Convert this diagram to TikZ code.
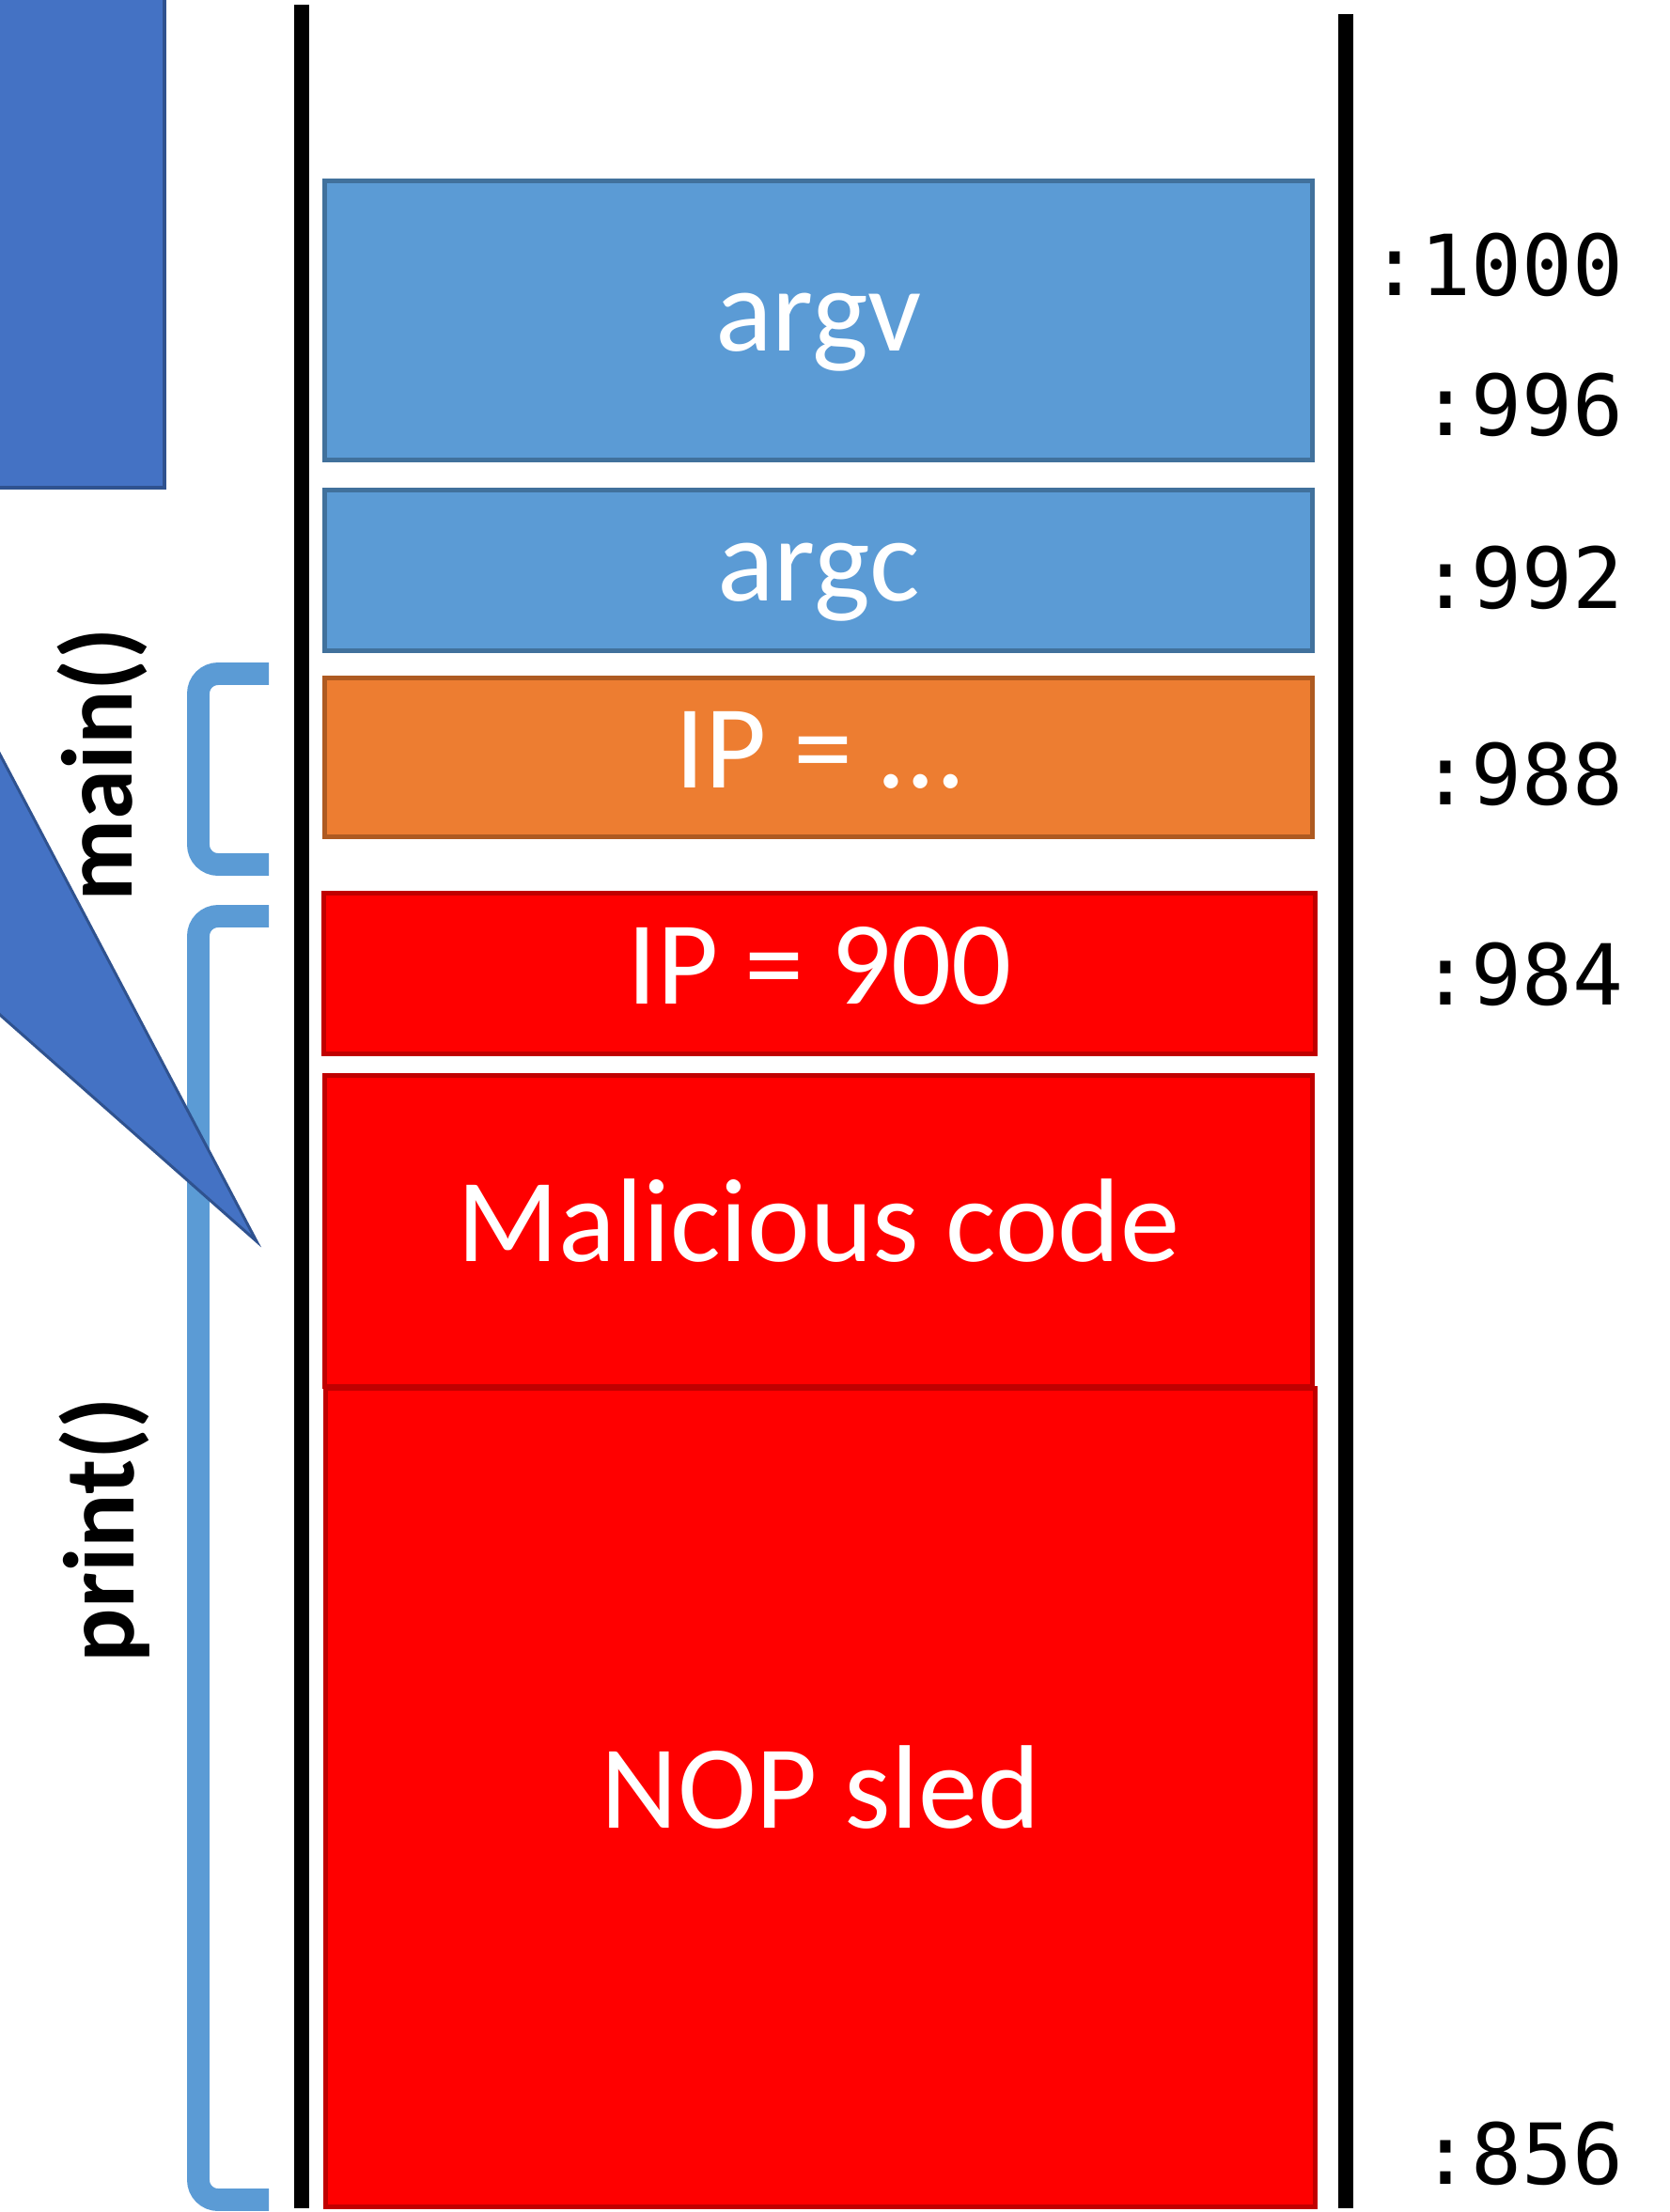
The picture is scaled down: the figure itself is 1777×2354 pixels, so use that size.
\documentclass[tikz,border=0pt]{standalone}
\usepackage{fontspec}
\setmainfont{Carlito}
\newfontfamily\monofont{DejaVu Sans Mono}
\usepackage{xcolor}
\usetikzlibrary{positioning}

\definecolor{slotblue}{HTML}{5B9BD5}
\definecolor{slotblueline}{HTML}{41719C}
\definecolor{slotorange}{HTML}{ED7D31}
\definecolor{slotorangeline}{HTML}{AE5A21}
\definecolor{slotred}{HTML}{FF0000}
\definecolor{slotredline}{HTML}{C00000}
\definecolor{calloutblue}{HTML}{4472C4}
\definecolor{calloutline}{HTML}{2F528F}

\tikzset{
  slot/.style={draw, line width=2.8pt, minimum width=21.04cm, text=white,
    inner sep=0pt, text height=54pt, text depth=16.6pt,
    font=\fontsize{72}{72}\selectfont},
  addr/.style={anchor=east, inner sep=0pt, font=\monofont\fontsize{51}{51}\selectfont},
  frame/.style={rotate=90, inner sep=0pt, font=\bfseries\fontsize{61}{61}\selectfont},
  bracket/.style={draw=slotblue, line width=13.6pt, rounded corners=12pt},
  wall/.style={line width=9pt}
}

\begin{document}
\begin{tikzpicture}[x=0.02cm, y=-0.02cm]
  \useasboundingbox (0,0) rectangle (1777,2354);

  % Stack walls
  \draw[wall] (321,5) -- (321,2350);
  \draw[wall] (1432,15) -- (1432,2350);

  % Frame brackets
  \draw[bracket] (286,717) -- (211,717) -- (211,920) -- (286,920);
  \draw[bracket] (286,975) -- (211,975) -- (211,2341) -- (286,2341);

  % Callout (body off the page)
  \begin{scope}
    \clip (0,0) rectangle (1777,2354);
    \draw[fill=calloutblue, draw=calloutline, line width=2.8pt] (-30,-30) rectangle (175,519);
    \draw[fill=calloutblue, draw=calloutline, line width=1.7pt]
      (-60,689) -- (273,1321) -- (-60,1027) -- cycle;
  \end{scope}

  % Stack slots
  \node[slot, fill=slotblue, draw=slotblueline, minimum height=5.94cm] (argv) at (871,341) {argv};
  \node[slot, fill=slotblue, draw=slotblueline, minimum height=3.42cm] (argc) at (871,607) {argc};
  \node[slot, fill=slotorange, draw=slotorangeline, minimum height=3.38cm] (mainip) at (871,806) {IP = \dots};
  \node[slot, fill=slotred, draw=slotredline, minimum width=21.1cm, minimum height=3.42cm] (printip) at (872,1036) {IP = 900};
  \node[slot, fill=slotred, draw=slotredline, minimum height=6.62cm] (payload) at (871,1310) {Malicious code};
  \node[slot, fill=slotred, draw=slotredline, minimum width=21.06cm, minimum height=17.44cm] (sled) at (873,1913) {NOP sled};

  % Frame labels
  \node[frame] (mainlbl) at (109,814) {main()};
  \node[frame] (printlbl) at (111,1628) {print()};

  % Addresses
  \node[addr] (a1000) at (1728,282) {:1000};
  \node[addr] (a996) at (1728,431) {:996};
  \node[addr] (a992) at (1728,615) {:992};
  \node[addr] (a988) at (1728,824) {:988};
  \node[addr] (a984) at (1728,1037) {:984};
  \node[addr] (a856) at (1728,2292) {:856};
\end{tikzpicture}
\end{document}
